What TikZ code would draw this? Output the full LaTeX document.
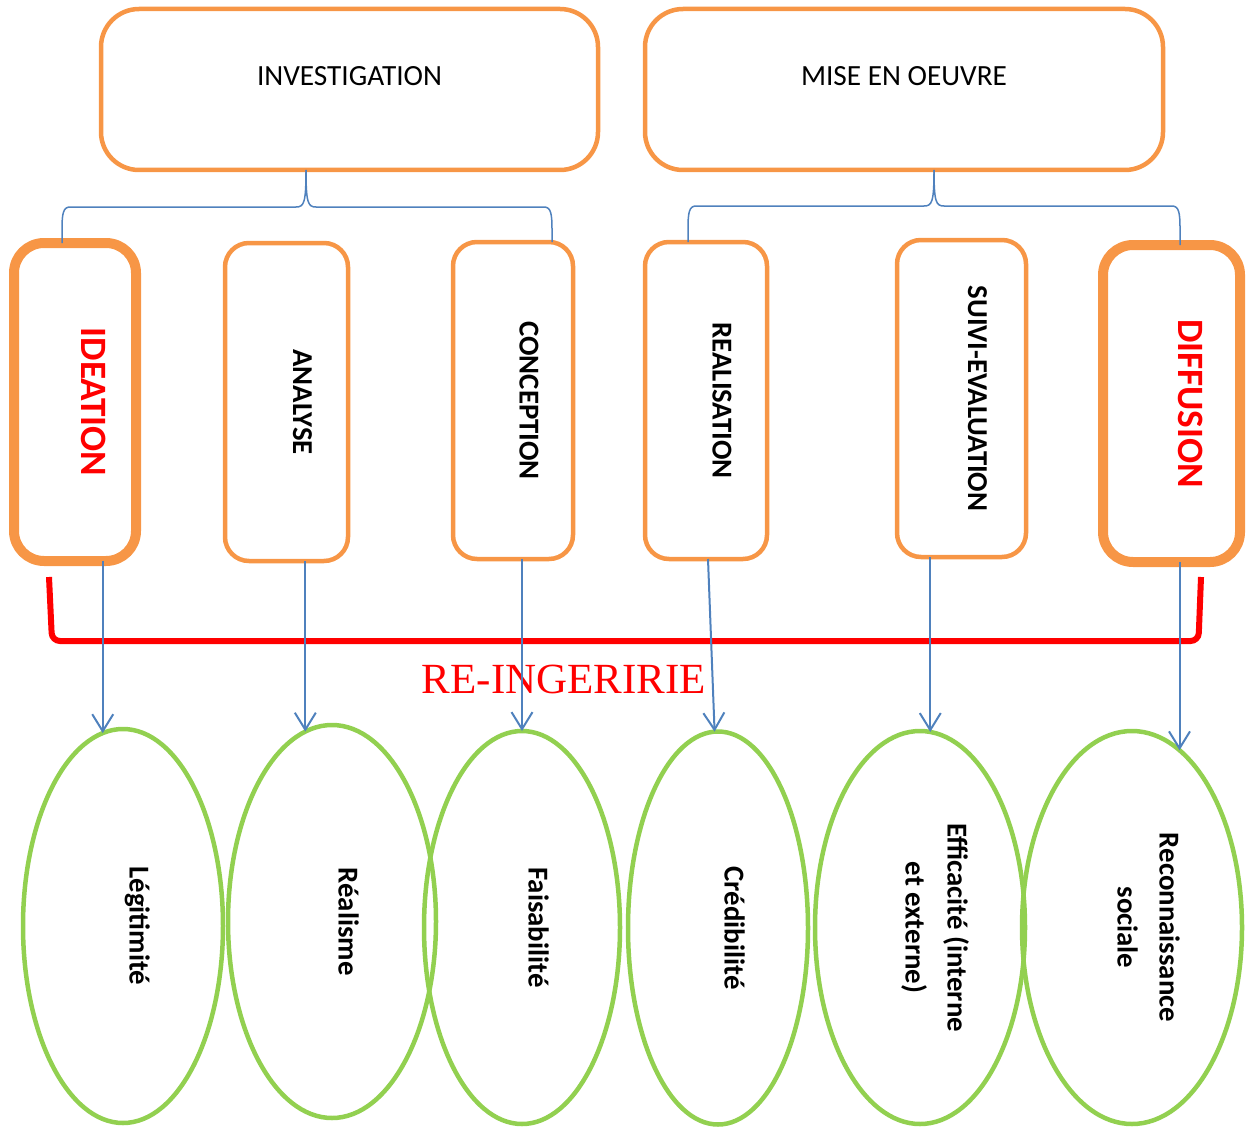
\documentclass[tikz,border=0pt]{standalone}
\usepackage{fontspec}
\setmainfont{Carlito}
\newfontfamily\serifrm{Liberation Serif}
\usetikzlibrary{arrows.meta, shapes.geometric, positioning}
\definecolor{boxorange}{HTML}{F79646}
\definecolor{ovalgreen}{HTML}{92D050}
\definecolor{linkblue}{HTML}{4F81BD}
\newcommand{\vlabel}[1]{\rotatebox{-90}{\begin{tabular}{@{}c@{}}#1\end{tabular}}\hspace*{-30pt}}
\tikzset{
  topbox/.style={draw=boxorange, line width=4.5pt, rounded corners=38pt, inner sep=0pt, outer sep=0pt,
    minimum height=161pt, text depth=28pt, font=\fontsize{29.3}{35}\selectfont},
  stepbox/.style={draw=boxorange, line width=4.5pt, rounded corners=24pt, inner sep=0pt, outer sep=0pt,
    minimum height=318pt, font=\bfseries\fontsize{28.8}{42}\selectfont},
  keystep/.style={stepbox, line width=10pt, rounded corners=30pt, text=red,
    font=\bfseries\fontsize{37.2}{42}\selectfont},
  critere/.style={ellipse, draw=ovalgreen, line width=4.5pt, inner sep=0pt, outer sep=0pt,
    minimum height=393pt, font=\bfseries\fontsize{28.8}{42}\selectfont},
  brace/.style={draw=linkblue, line width=1.5pt},
  arr/.style={->, draw=linkblue, line width=2pt},
  reing/.style={draw=red, line width=6pt, rounded corners=8pt}
}

\begin{document}
\begin{tikzpicture}[x=1pt, y=-1pt, >={Straight Barb[length=17pt,width=21pt]}]
        \useasboundingbox (0,0) rectangle (1249,1126);

        % les deux phases
        \node[topbox, minimum width=497pt] (inv) at (349.5,89.5) {INVESTIGATION};
        \node[topbox, minimum width=518pt] (mise) at (904,89.5) {MISE EN OEUVRE};

        % les six etapes
        \node[keystep, minimum width=122pt] (idea) at (75,402) {\vlabel{IDEATION}};
        \node[stepbox, minimum width=123pt] (ana) at (286.5,402) {\vlabel{ANALYSE}};
        \node[stepbox, minimum width=120pt, minimum height=317pt] (conc) at (513,400.5) {\vlabel{CONCEPTION}};
        \node[stepbox, minimum width=122pt, minimum height=317pt] (real) at (706,400.5) {\vlabel{REALISATION}};
        \node[stepbox, minimum width=129pt, minimum height=317pt] (suivi) at (961.5,398.5) {\vlabel{SUIVI-EVALUATION}};
        \node[keystep, minimum width=137pt, minimum height=317pt] (diff) at (1171.5,403.5) {\vlabel{DIFFUSION}};

        % les criteres
        \node[critere, minimum width=200pt, minimum height=394pt] (leg) at (123,926) {\vlabel{Légitimité}};
        \node[critere, minimum width=208pt] (rea) at (332,921.5) {\vlabel{Réalisme}};
        \node[critere, minimum width=196pt] (fai) at (522,927.5) {\vlabel{Faisabilité}};
        \node[critere, minimum width=180pt] (cre) at (718,928) {\vlabel{Crédibilité}};
        \node[critere, minimum width=210pt] (eff) at (920,927.5) {\vlabel{Efficacité (interne\\ et externe)}};
        \node[critere, minimum width=220pt] (rec) at (1132,927.5) {\vlabel{Reconnaissance\\ sociale}};

        % accolades
        \draw[brace] ([xshift=-43.5pt]inv.south) .. controls +(0,33) and +(8,0) .. ++(-10,37)
          -- ++(-226,0) .. controls +(-7,0) and +(0,-16) .. ++(-8,23) -- ([xshift=-13pt]idea.north);
        \draw[brace] ([xshift=-43.5pt]inv.south) .. controls +(0,33) and +(-8,0) .. ++(10,37)
          -- ++(228,0) .. controls +(7,0) and +(0,-16) .. ++(8,23) -- ([xshift=39pt]conc.north);
        \draw[brace] ([xshift=30pt]mise.south) .. controls +(0,32) and +(8,0) .. ++(-10,36)
          -- ++(-228,0) .. controls +(-7,0) and +(0,-16) .. ++(-8,23) -- ([xshift=-18pt]real.north);
        \draw[brace] ([xshift=30pt]mise.south) .. controls +(0,32) and +(-8,0) .. ++(10,36)
          -- ++(228,0) .. controls +(7,0) and +(0,-16) .. ++(8,23) -- ([xshift=8.5pt]diff.north);

        % re-ingenierie
        \draw[reing] ([xshift=-26pt,yshift=-16pt]idea.south) -- ([xshift=-23pt,yshift=-80pt]idea.south)
          -- ([xshift=27pt,yshift=-79pt]diff.south) -- ([xshift=29.5pt,yshift=-15pt]diff.south);
        \node[text=red, font=\serifrm\fontsize{43}{50}\selectfont] (rein) at (564,679) {RE-INGERIRIE};

        % fleches
        \draw[arr] (idea.south -| leg.96) -- (leg.96);
        \draw[arr] (ana.south -| rea.98) -- (rea.98);
        \draw[arr] (conc.south -| fai.90) -- (fai.90);
        \draw[arr] ([xshift=2pt]real.south) -- (cre.91.5);
        \draw[arr] (suivi.south -| eff.87) -- (eff.87);
        \draw[arr] (diff.south -| rec.75) -- (rec.75);
\end{tikzpicture}
\end{document}
